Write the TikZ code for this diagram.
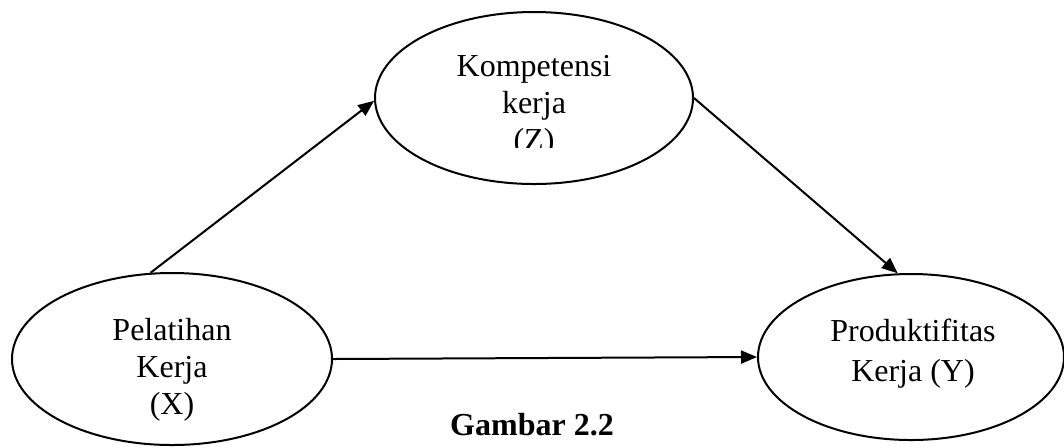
\documentclass[tikz,border=0pt]{standalone}
\usepackage{fontspec}
\setmainfont{Liberation Serif}
\usetikzlibrary{arrows.meta, shapes.geometric}
\begin{document}
\begin{tikzpicture}[x=0.5pt, y=-0.5pt, line width=1pt,
		var/.style={ellipse, draw, inner sep=0pt},
		lbl/.style={align=center, font=\fontsize{16}{18.5}\selectfont},
		>={Triangle[length=8pt, width=6.5pt]}]
			\useasboundingbox (0,0) rectangle (1064,447);

			\node[var, minimum width=159pt, minimum height=86pt] (komp) at (534,98) {};
			\node[var, minimum width=160pt, minimum height=86pt] (pel) at (172,359) {};
			\node[var, minimum width=153pt, minimum height=83pt] (prod) at (911,357) {};

			\begin{scope}
				\clip (380,20) rectangle (690,147);
				\node[lbl] (kompT) at (534,106) {Kompetensi\\kerja\\(Z)};
			\end{scope}
			\node[lbl] (pelT) at (172,370) {Pelatihan\\Kerja\\(X)};
			\node[lbl, font=\fontsize{16}{20}\selectfont] (prodT) at (913,354) {Produktifitas\\Kerja (Y)};

			\draw[->] (pel.104) -- (komp.181);
			\draw[->] (komp.east) -- (prod.99);
			\draw[->] (pel.east) -- (prod.west);

			\node[font=\fontsize{16}{18}\selectfont\bfseries] (cap) at (532,425) {Gambar 2.2};
		\end{tikzpicture}
\end{document}
